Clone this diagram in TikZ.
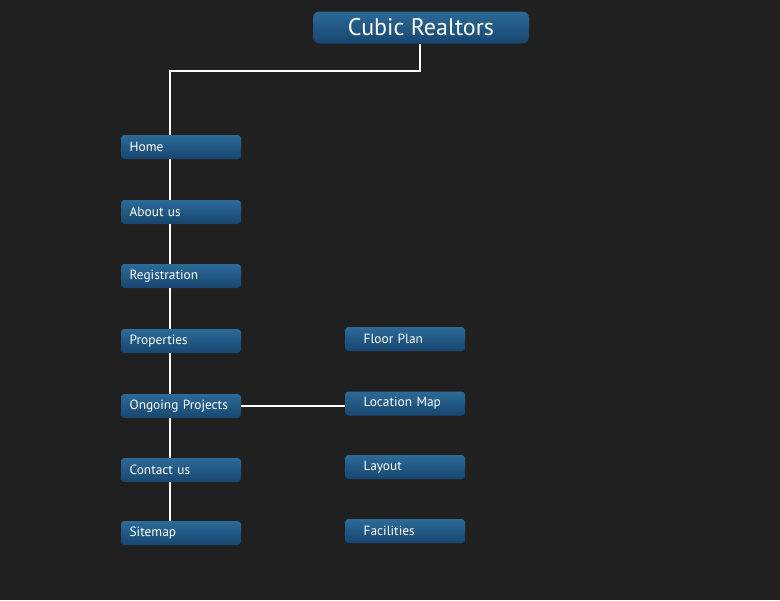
\documentclass[tikz,border=0pt]{standalone}
\usepackage{fontspec}
\setmainfont{PT Sans}
\definecolor{bgdark}{HTML}{202020}
\definecolor{boxtop}{HTML}{2C6A98}
\definecolor{boxbot}{HTML}{174670}
\tikzset{%
    item/.style={rounded corners=2.5pt,top color=boxtop,bottom color=boxbot,
        text=white,font=\fontsize{10}{12}\selectfont,minimum height=18pt,
        text width=77pt,inner xsep=6.5pt,align=left},
    link/.style={white,line width=1.5pt}
}
\begin{document}
\begin{tikzpicture}[x=0.75pt,y=-0.75pt]
    \fill[bgdark] (0,0) rectangle (780,600);
    \useasboundingbox (0,0) rectangle (780,600);

    \node[item, rounded corners=5pt, minimum width=162pt, minimum height=24pt,
        text width=, align=center, font=\fontsize{18}{22}\selectfont] (title) at (421,27.5) {Cubic Realtors};

    \node[item] (home) at (181,147) {Home};
    \node[item] (about) at (181,212) {About us};
    \node[item] (reg) at (181,276) {Registration};
    \node[item] (prop) at (181,341) {Properties};
    \node[item] (ongoing) at (181,406) {Ongoing Projects};
    \node[item] (contact) at (181,470) {Contact us};
    \node[item] (sitemap) at (181,533) {Sitemap};

    \node[item, inner xsep=14pt, text width=62pt] (floor) at (405,339) {Floor Plan};
    \node[item, inner xsep=14pt, text width=62pt] (locmap) at (405,403.5) {Location Map};
    \node[item, inner xsep=14pt, text width=62pt] (layout) at (405,467) {Layout};
    \node[item, inner xsep=14pt, text width=62pt] (facil) at (405,531) {Facilities};

    \coordinate (c1) at (420,71);
    \coordinate (c2) at (170,71);
    \begin{scope}[on background layer/.try]
    \end{scope}
    \draw[link] (title.south -| c1) -- (c1) -- (c2) -- (home.north -| c2);
    \draw[link] (home.south -| c2) -- (about.north -| c2);
    \draw[link] (about.south -| c2) -- (reg.north -| c2);
    \draw[link] (reg.south -| c2) -- (prop.north -| c2);
    \draw[link] (prop.south -| c2) -- (ongoing.north -| c2);
    \draw[link] (ongoing.south -| c2) -- (contact.north -| c2);
    \draw[link] (contact.south -| c2) -- (sitemap.north -| c2);
    \draw[link] (ongoing.east) -- (ongoing.east -| locmap.west);
\end{tikzpicture}
\end{document}
